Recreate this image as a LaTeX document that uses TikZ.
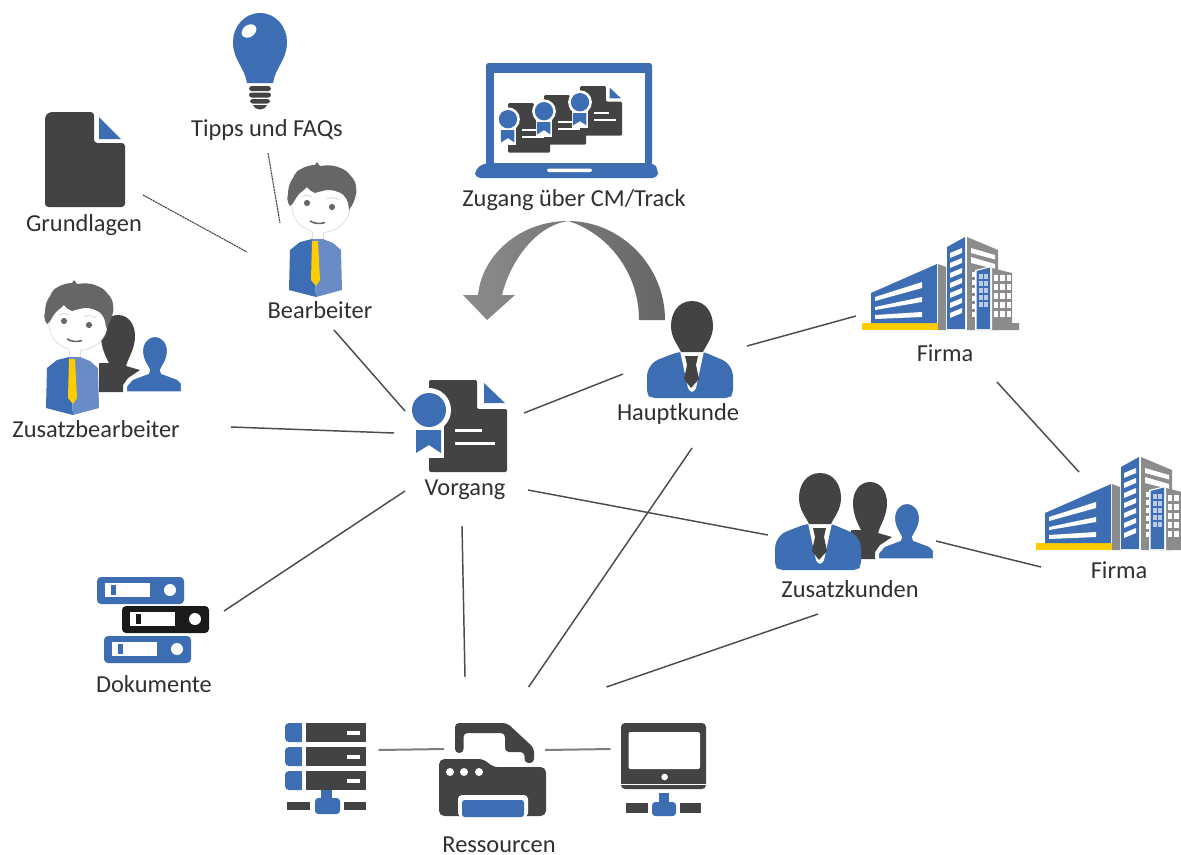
\documentclass[tikz,border=0pt]{standalone}
\usepackage{fontspec}
\setmainfont{Carlito}
\definecolor{blu}{HTML}{3D6DB3}
\definecolor{blul}{HTML}{6A8CC6}
\definecolor{drk}{HTML}{434343}
\definecolor{blk}{HTML}{1A1A1A}
\definecolor{yel}{HTML}{FFCC00}
\definecolor{gry}{HTML}{8C8C8C}
\definecolor{hair}{HTML}{666666}
\definecolor{txt}{HTML}{303030}
\tikzset{
  lbl/.style={font=\fontsize{18.3}{21}\selectfont, text=txt, inner sep=0pt, text height=13.5pt, text depth=3pt},
  conn/.style={draw=drk!95, line width=1.1pt},
  connsoft/.style={draw=gry!90!black, line width=1.5pt},
  connfine/.style={draw=drk, line width=0.8pt, dash pattern=on 1.6pt off 0.5pt},
  hidden/.style={inner sep=0pt, minimum size=1pt},
  cert/.pic={
    \fill[drk, rounded corners=1] (0,0) -- (48,0) -- (48,29) -- (78,29) -- (78,92) -- (0,92) -- cycle;
    \fill[blu] (55,3) -- (55,23) -- (76,23) -- cycle;
    \fill[white] (0,30) circle[radius=22];
    \fill[white] (-15,46) -- (15,46) -- (15,78) -- (-15,78) -- cycle;
    \fill[blu] (0,30) circle[radius=17];
    \fill[blu] (-13,50) -- (12,50) -- (12,73) -- (0,65) -- (-13,73) -- cycle;
    \fill[white] (26,48.5) rectangle (53,52);
    \fill[white] (26,61.5) rectangle (66,65);
  },
  bust/.pic={
    \fill[blu, rounded corners=3] (678,352) -- (662,358) .. controls (650,363) and (647,372) .. (647,380) -- (647,394) -- (651,398) -- (729,398) -- (733,394) -- (733,380) .. controls (733,372) and (730,363) .. (718,358) -- (704,352) -- cycle;
    \fill[white] (680,351) -- (688,388) .. controls (690,393) and (694,393) .. (696,388) -- (704,351) -- cycle;
    \fill[drk] (692,301) .. controls (705,301) and (713,312) .. (713,326) .. controls (713,338) and (706,345) .. (703,352) -- (681,352) .. controls (678,345) and (671,338) .. (671,326) .. controls (671,312) and (679,301) .. (692,301) -- cycle;
    \fill[drk] (685,356) -- (698,356) -- (696,365) -- (699,379) -- (691,388) -- (684,379) -- (687,365) -- cycle;
  },
  bustpair/.pic={
    \fill[drk] (870,482) .. controls (881,482) and (887,492) .. (887,503) .. controls (887,515) and (881,524) .. (879,530) -- (878,533) -- (892,537) -- (880,545) -- (875,552) -- (875,559) -- (851,559) -- (851,530) -- (861,530) .. controls (858,524) and (853,515) .. (853,503) .. controls (853,492) and (859,482) .. (870,482) -- cycle;
    \fill[blu, draw=white, line width=1.6pt] (907,503) .. controls (915,503) and (920,510) .. (920,518) .. controls (920,527) and (915,533) .. (913,537) -- (914,540) -- (930,546) -- (934,550) -- (934,559.5) -- (878,559.5) -- (878,553) -- (884,546) -- (900,540) -- (901,537) .. controls (899,533) and (894,527) .. (894,518) .. controls (894,510) and (899,503) .. (907,503) -- cycle;
  },
  cartoon/.pic={
    \fill[white, draw=black!12, line width=0.6pt] (321,207) ellipse[x radius=29, y radius=25.5];
    \fill[white] (312,228) rectangle (323,242);
    \draw[black!12, line width=0.6pt] (312,232) -- (312,240) (323,232) -- (323,240);
    \fill[hair] (290,206) .. controls (287,202) and (287,198) .. (288,194) .. controls (288,187) and (290,182) .. (293,178) .. controls (295,173) and (298,170) .. (301,169) .. controls (306,166) and (311,165) .. (315,165) -- (317,162) -- (320,166) .. controls (327,165) and (333,165) .. (338,167) .. controls (344,169) and (348,172) .. (350,175) .. controls (354,179) and (356,183) .. (356,187) .. controls (357,192) and (356,195) .. (355,198) .. controls (354,202) and (352,206) .. (349,210) .. controls (349,207) and (348,203) .. (347,200) .. controls (345,196) and (342,193) .. (338,192) .. controls (334,190) and (330,190) .. (327,190) .. controls (322,191) and (318,192) .. (315,193) .. controls (312,192) and (309,190) .. (307,187) .. controls (305,189) and (303,191) .. (300,193) .. controls (297,196) and (295,200) .. (293,203) -- cycle;
    \fill[hair] (307,203) circle[radius=3.1] (332,207) circle[radius=3.1];
    \draw[black!18, line width=0.5pt] (302,197) .. controls (305,195) and (309,195) .. (312,197) (327,199) .. controls (331,197) and (335,197) .. (339,200);
    \draw[hair, line width=1.2pt] (310,221) .. controls (315,224) and (320,224) .. (325,222.5);
    \fill[blu] (312,239) -- (300,242) -- (290,250) -- (289,290) -- (316,297) -- cycle;
    \fill[blul] (312,239) -- (323,239) -- (333,243) -- (341,250) -- (342,290) -- (316,297) -- cycle;
    \fill[yel] (312,241) -- (318,241) -- (320,280) -- (316,286) -- (311,280) -- cycle;
  },
  bldg/.pic={
    \fill[yel] (862,323) rectangle (939,330);
    \fill[blu] (871,293) -- (937,264) -- (937,323) -- (871,323) -- cycle;
    \fill[white] (875,297) -- (922,282) -- (922,288) -- (875,301) -- cycle;
    \fill[white] (875,307) -- (922,297) -- (922,302) -- (875,310) -- cycle;
    \fill[white] (875,315) -- (922,312) -- (922,317) -- (875,319) -- cycle;
    \fill[gry] (938,264) -- (946,267) -- (946,330) -- (938,330) -- cycle;
    \fill[blu] (947,247) -- (965,237) -- (965,329) -- (947,329) -- cycle;
    \foreach \i in {0,...,6} {
      \fill[white] (950,253+\i*10) -- (962,248+\i*10) -- (962,253+\i*10) -- (950,258+\i*10) -- cycle;
    }
    \fill[gry] (967,237) -- (998,250) -- (998,330) -- (967,330) -- cycle;
    \fill[white] (971,248) -- (995,255) -- (995,259.5) -- (971,253) -- cycle;
    \fill[white] (971,257) -- (995,264) -- (995,269) -- (971,263) -- cycle;
    \foreach \i in {0,...,5} { \fill[white] (971.5,272+\i*8) rectangle (976,277+\i*8); }
    \fill[gry] (992,268) -- (1012,273) -- (1012,323) -- (1019,323) -- (1019,330) -- (992,330) -- cycle;
    \foreach \c in {993.5,1000,1006.5} { \foreach \i in {0,...,4} {
      \fill[white] (\c,275+\i*9) rectangle (\c+4.7,281+\i*9);
    } }
    \fill[white] (975,270) -- (992,266) -- (992,330) -- (975,330) -- cycle;
    \fill[blu] (976.5,271) -- (990,267.5) -- (990,329) -- (976.5,329) -- cycle;
    \foreach \c in {979,984} { \foreach \i in {0,...,4} {
      \fill[blul!45!white] (\c,274+\i*7) rectangle (\c+4,279+\i*7);
    } }
  },
  binder/.pic={
    \fill[pic actions, rounded corners=3] (0,0) rectangle (87,27);
    \fill[white] (8,6) rectangle (53,20);
    \fill[pic actions] (14,8) rectangle (19,18);
    \fill[white] (73,13) circle[radius=6];
  },
}
\begin{document}
\begin{tikzpicture}[x=0.75pt,y=-0.75pt]
\useasboundingbox (0,0) rectangle (1181,854);
\clip (0,0) rectangle (1181,854);
\fill[white] (0,0) rectangle (1181,854);

% --- icons ---
% bulb
\fill[blu] (260,13) .. controls (276,13) and (287,27) .. (287,42) .. controls (287,60) and (275,68) .. (273,83) -- (247,83) .. controls (245,68) and (233,60) .. (233,42) .. controls (233,27) and (244,13) .. (260,13) -- cycle;
\fill[white, rotate around={35:(249,31)}] (249,31) ellipse[x radius=8, y radius=6];
\fill[drk, rounded corners=2] (249,86) rectangle (271,91);
\fill[drk, rounded corners=2] (249,92.5) rectangle (271,97.5);
\fill[drk, rounded corners=2] (250,99) rectangle (270,103.5);
\fill[drk] (253,105) -- (267,105) .. controls (266,108) and (263,109.5) .. (260,109.5) .. controls (257,109.5) and (254,108) .. (253,105) -- cycle;

% Grundlagen page
\fill[drk, rounded corners=2.5] (49,112) -- (94,112) -- (94,143) -- (125,143) -- (125,207) -- (45,207) -- (45,116) -- cycle;
\fill[blu] (99,117) -- (99,139) -- (121,139) -- cycle;

% people
\pic at (0,0) {cartoon};
\pic at (-752,-167) {bustpair};
\pic at (-243,118) {cartoon};
\pic at (0,0) {bust};
\pic at (0,0) {bustpair};
\pic at (128,172) {bust};

% certificate
\pic at (429,380) {cert};

% laptop
\fill[blu, rounded corners=2] (486,165) -- (486,63) -- (652,63) -- (652,165) -- cycle;
\fill[white] (494,73) rectangle (645,163);
\fill[blu, rounded corners=4] (484,163) -- (654,163) -- (658,170) -- (658,178) -- (475,178) -- (475,170) -- cycle;
\fill[white, rounded corners=1.5] (547,168.5) rectangle (592,172);
\pic[scale=0.54] at (508,103) {cert};
\pic[scale=0.54] at (544,95) {cert};
\pic[scale=0.54] at (580,86) {cert};

% return arrow
\shade[left color=gry, right color=hair] (665,320) .. controls (665,265) and (620,221) .. (568,221) .. controls (520,221) and (482,255) .. (478,295) -- (463,295) -- (487,320) -- (515,295) -- (502,295) .. controls (510,262) and (535,226) .. (568,221) .. controls (605,232) and (639,270) .. (639,320) -- cycle;

% buildings
\pic at (0,0) {bldg};
\pic at (174,220) {bldg};

% binders
\pic[fill=blu] at (97,577) {binder};
\pic[fill=blk] at (122,606) {binder};
\pic[fill=blu] at (104,636) {binder};

% server
\foreach \y in {723,747,771} {
  \fill[blu, rounded corners=3] (302,\y) -- (302,\y+19) -- (297,\y+19) -- (285,\y+19) -- (285,\y) -- (297,\y) -- cycle;
  \fill[blu] (294,\y) rectangle (302,\y+19);
  \fill[drk] (306,\y) rectangle (366,\y+19);
  \fill[white] (347,\y+7.5) rectangle (360,\y+11.5);
}
\fill[blu] (321,790) rectangle (332,800);
\fill[blu, rounded corners=2.5] (315,798) rectangle (340,814);
\fill[drk] (287,802) rectangle (310,810);
\fill[drk] (344,802) rectangle (366,810);

% printer
\fill[drk, rounded corners=3] (455,753) -- (455,723) -- (507,723) -- (534,748) -- (534,763) -- (524.5,763) -- (524.5,752) -- (505,752) -- (505,733) -- (463.5,733) -- (463.5,753) -- cycle;
\fill[drk, rounded corners=4] (439,816) -- (439,759) -- (484,759) -- (492.5,767) -- (546,767) -- (546,816) -- cycle;
\fill[white, rounded corners=3] (458,817) -- (458,795) -- (528,795) -- (528,817) -- cycle;
\fill[blu, rounded corners=2] (462,817) -- (462,800) -- (524,800) -- (524,817) -- cycle;
\fill[white] (450,772) circle[radius=4] (464,772) circle[radius=4] (479,772) circle[radius=4];

% monitor
\fill[drk, rounded corners=3] (621,789) -- (621,723) -- (706,723) -- (706,789) -- cycle;
\fill[white, rounded corners=1.5] (628.5,732) rectangle (700,769);
\fill[white] (664.6,777) circle[radius=3.3];
\fill[white] (621,783.5) rectangle (706,784.5);
\fill[blu] (659,793) rectangle (669,804);
\fill[blu, rounded corners=2.5] (652,802) rectangle (676,816);
\fill[drk] (626,803) rectangle (648,813);
\fill[drk] (680,803) rectangle (701,813);

% --- labels ---
\node[lbl] (tipps) at (267,129) {Tipps und FAQs};
\node[lbl] (grundlagen) at (84,224) {Grundlagen};
\node[lbl] (bearbeiter) at (320,311) {Bearbeiter};
\node[lbl] (zusatzbearb) at (96,430) {Zusatzbearbeiter};
\node[lbl] (zugang) at (574,199) {Zugang über CM/Track};
\node[lbl] (vorgang) at (465,488) {Vorgang};
\node[lbl] (hauptkunde) at (678,413) {Hauptkunde};
\node[lbl] (firmaA) at (945,354) {Firma};
\node[lbl] (firmaB) at (1119,571) {Firma};
\node[lbl] (zusatzkunden) at (850,590) {Zusatzkunden};
\node[lbl] (dokumente) at (154,685) {Dokumente};
\node[lbl, text depth=1pt] (ressourcen) at (499,844) {Ressourcen};
\node[hidden] (server) at (326,770) {};
\node[hidden] (monitor) at (664,770) {};

% --- connectors ---
\draw[connfine] ([shift={(1,24)}]tipps.center) -- ([shift={(-40,-88)}]bearbeiter.center);
\draw[connfine] ([shift={(59,-29)}]grundlagen.center) -- ([shift={(-73,-59)}]bearbeiter.center);
\draw[conn] ([shift={(14,19)}]bearbeiter.center) -- ([shift={(-60,-77)}]vorgang.center);
\draw[conn] ([shift={(135,-3)}]zusatzbearb.center) -- ([shift={(-71,-55)}]vorgang.center);
\draw[conn] ([shift={(59,-75)}]vorgang.center) -- ([shift={(-55,-39)}]hauptkunde.center);
\draw[conn] ([shift={(69,-67)}]hauptkunde.center) -- ([shift={(-89,-38)}]firmaA.center);
\draw[conn] ([shift={(52,28)}]firmaA.center) -- ([shift={(-40,-99)}]firmaB.center);
\draw[conn] ([shift={(86,-49)}]zusatzkunden.center) -- ([shift={(-78,-4)}]firmaB.center);
\draw[conn] ([shift={(63,2)}]vorgang.center) -- ([shift={(-82,-55)}]zusatzkunden.center);
\draw[conn] ([shift={(-60,3)}]vorgang.center) -- ([shift={(70,-74)}]dokumente.center);
\draw[conn] ([shift={(-3,38)}]vorgang.center) -- ([shift={(-34,-167)}]ressourcen.center);
\draw[conn] ([shift={(14,35)}]hauptkunde.center) -- ([shift={(29.6,-157)}]ressourcen.center);
\draw[conn] ([shift={(-32,24)}]zusatzkunden.center) -- ([shift={(107.5,-157)}]ressourcen.center);
\draw[connsoft] ([shift={(52.5,-20)}]server.center) -- ([shift={(-55,-95)}]ressourcen.center);
\draw[connsoft] ([shift={(46,-94)}]ressourcen.center) -- ([shift={(-53.3,-21)}]monitor.center);
\end{tikzpicture}
\end{document}
